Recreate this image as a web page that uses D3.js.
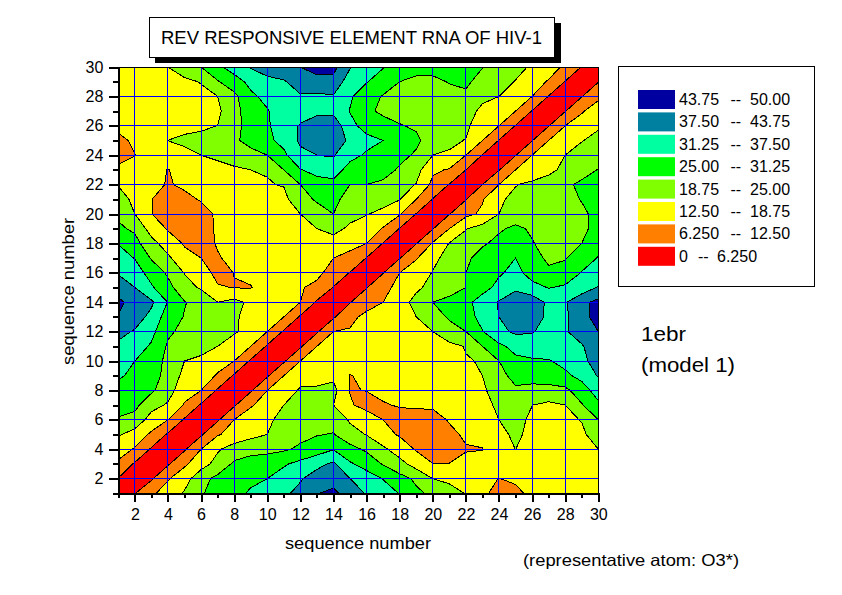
<!DOCTYPE html>
<html><head><meta charset="utf-8">
<script src="https://cdn.jsdelivr.net/npm/d3@7"></script>
<style>html,body{margin:0;padding:0;background:#fff}svg{display:block}text{font-family:"Liberation Sans",Arial,sans-serif;fill:#000}</style>
</head><body><svg id="c" width="842" height="595"></svg>
<script>
// Upper triangle of the symmetric distance matrix: rowN holds d(N, N+1..30)
const row1=[6,11.5,15,19.5,24.5,27,29.5,32,34,36.5,39,43.5,45,41,37,34,31,26,24,21,18.5,14,10,11,14,15,15.5,16,16.5];
const row2=[5.5,12,16,23,26.5,28,30,31.25,34,37,40,41.5,37.5,34,31,27,24,18.75,17.5,15.5,14,12.4,13.5,14,14,15,15.5,16.5];
const row3=[5.5,11.5,16,21,26,27.5,28,30.5,33,36,38.5,32,29,24.5,21,16,12.6,12.6,14.5,15,15.5,16,16,16,16.5,17,17.5];
const row4=[5.5,12.5,18,21.5,23,23.5,24.2,26,28,31,27,24,20,15.5,12,10,10.5,12,12.3,16,18.8,16,15.5,16,17.5,18.75];
const row5=[5.5,12,14.5,17,18.75,21,23.5,24.7,25.3,21,18.5,14,12,10,9,11,13.5,14.5,17,20,17,16,16.5,17.7,21.5];
const row6=[5.5,12.5,15,18,20,22,23,23,18,15,12.5,10,9.5,10,13,15,17,18.75,20,18,17,17.5,19,25];
const row7=[5.5,12,14.5,18.75,21,22,18.75,13,11,12,13,13.5,13.5,14,15.5,17.5,19.5,20.5,18.8,17.5,18.75,24.5,30];
const row8=[5.5,12.5,15.5,19.5,19.5,20.5,12.3,12.6,14,15,16,16.5,17,17.5,18,21,24,23,23,23.5,28.5,34];
const row9=[5.5,12.5,16.5,17,17.5,12.2,14,15.5,16.5,17,17.5,17.5,18,18.75,23,27,27.5,28,30,33,38];
const row10=[5.5,12.5,14,15,15.5,16,16.5,17,17.5,17.7,18,18.5,19,25,30,30.5,30.8,33,36,40];
const row11=[5.5,12.5,14,14.5,15,15.5,15.5,16,16.5,17.5,19,25,30,33,34.5,35,35.5,37,41];
const row12=[5.5,12.5,13,15,15.5,16,17,18.75,22,25,31,36,38.5,38,35,37,40,43.75];
const row13=[5.5,11,14,15,16.5,18.75,21.5,26,29,33,37.5,41,41,36,36.5,41,47];
const row14=[6,10,12.5,17,20,25,27,29.5,34,38,42,41.5,36,37,42,45.5];
const row15=[6,11,14,18,20,22,25,29,33,36,33,31,32,34,38];
const row16=[6,12.5,16,19,21.5,25,28,30.5,33,29,26,28,31.5,34];
const row17=[6,12,17.5,20.5,23.5,28,29,31.25,27,24,24.5,29,31.5];
const row18=[6,13,19,21,24,27,28,25.5,22,22,25,30];
const row19=[6,12.5,18.5,21,24,26.5,24,21,21,23,28];
const row20=[6,11,13.5,18.75,21,21,20,20,23,28];
const row21=[6,12,18,20,20,20.5,22,25.5,27];
const row22=[6.25,12.5,18.5,20,21,24,26,26.5];
const row23=[6,12.5,15,17.5,20,23,25.2];
const row24=[6,12.5,15.5,18.75,21,23];
const row25=[6,12.5,15,18.5,20.5];
const row26=[6,12.5,15,18];
const row27=[6,12,15];
const row28=[6,11.5];
const row29=[6];
const rows=[row1,row2,row3,row4,row5,row6,row7,row8,row9,row10,row11,row12,row13,row14,row15,row16,row17,row18,row19,row20,row21,row22,row23,row24,row25,row26,row27,row28,row29];

const levels=[0,6.25,12.5,18.75,25,31.25,37.5,43.75];
const colors=["#ff0000","#ff8000","#ffff00","#80ff00","#00ff00","#00ffa0","#0080a0","#0000a0"];
const legendLow=["0","6.250","12.50","18.75","25.00","31.25","37.50","43.75"];
const legendHigh=["6.250","12.50","18.75","25.00","31.25","37.50","43.75","50.00"];
const majorTicks=[2,4,6,8,10,12,14,16,18,20,22,24,26,28,30];
const minorTicks=[1,3,5,7,9,11,13,15,17,19,21,23,25,27,29];
const titleText="REV RESPONSIVE ELEMENT RNA OF HIV-1";
const axisName="sequence number";

const n=30, grid=new Array(n*n).fill(0);
rows.forEach((r,i)=>r.forEach((v,k)=>{const j=i+1+k;grid[i*n+j]=v;grid[j*n+i]=v;}));

const L=118.3,R=598.3,T=67,B=493.3;
const x=d3.scaleLinear().domain([1,30]).range([L,R]);
const y=d3.scaleLinear().domain([1,30]).range([B,T]);
const svg=d3.select("#c");
svg.append("defs").append("clipPath").attr("id","plot").append("rect")
  .attr("x",L).attr("y",T).attr("width",R-L).attr("height",B-T);

const contours=d3.contours().size([n,n]).thresholds(levels)(grid);
const path=d3.geoPath(d3.geoTransform({point(px,py){this.stream.point(x(px+.5),y(py+.5));}}));
const plot=svg.append("g").attr("clip-path","url(#plot)");
plot.selectAll("path").data(contours).join("path")
  .attr("d",path).attr("fill",(d,i)=>colors[i]).attr("fill-rule","evenodd")
  .attr("stroke","#000").attr("stroke-width",(d,i)=>i?1:0).attr("shape-rendering","crispEdges");

// grid
const gridG=svg.append("g").attr("stroke","#0000ff").attr("stroke-width",1).attr("shape-rendering","crispEdges");
gridG.selectAll(".v").data(majorTicks.slice(0,-1)).join("line").attr("x1",d=>x(d)).attr("x2",d=>x(d)).attr("y1",T).attr("y2",B);
gridG.selectAll(".h").data(majorTicks.slice(0,-1)).join("line").attr("y1",d=>y(d)).attr("y2",d=>y(d)).attr("x1",L).attr("x2",R);

// frame
svg.append("rect").attr("x",L).attr("y",T).attr("width",R-L).attr("height",B-T).attr("fill","none").attr("stroke","#000").attr("stroke-width",1).attr("shape-rendering","crispEdges");

// axes
function styleAxis(g,w,fs){g.select(".domain").attr("stroke","#000").attr("stroke-width",2).attr("shape-rendering","crispEdges");
  g.selectAll(".tick line").attr("stroke","#000").attr("stroke-width",w).attr("shape-rendering","crispEdges");
  g.selectAll("text").attr("font-size",fs).attr("font-family",'"Liberation Sans",Arial,sans-serif');}
const axB=svg.append("g").attr("transform",`translate(0,${B})`).call(d3.axisBottom(x).tickValues(majorTicks).tickFormat(d3.format("d")).tickSize(9).tickPadding(6).tickSizeOuter(0));
styleAxis(axB,2,16);
const axBm=svg.append("g").attr("transform",`translate(0,${B})`).call(d3.axisBottom(x).tickValues(minorTicks).tickFormat("").tickSize(5).tickSizeOuter(0));
styleAxis(axBm,2,16);
const axL=svg.append("g").attr("transform",`translate(${L},0)`).call(d3.axisLeft(y).tickValues(majorTicks).tickFormat(d3.format("d")).tickSize(9).tickPadding(6).tickSizeOuter(0));
styleAxis(axL,2,16);
const axLm=svg.append("g").attr("transform",`translate(${L},0)`).call(d3.axisLeft(y).tickValues(minorTicks).tickFormat("").tickSize(5).tickSizeOuter(0));
styleAxis(axLm,2,16);

svg.append("text").attr("x",285).attr("y",549).attr("font-size",16.5).attr("textLength",146).attr("lengthAdjust","spacingAndGlyphs").text(axisName);
svg.append("text").attr("transform","translate(74,365) rotate(-90)").attr("font-size",16.5).attr("textLength",147).attr("lengthAdjust","spacingAndGlyphs").text(axisName);

// title
svg.append("rect").attr("x",155).attr("y",23).attr("width",406).attr("height",40).attr("fill","#000").attr("shape-rendering","crispEdges");
svg.append("rect").attr("x",149.5).attr("y",17.5).attr("width",405).attr("height",39.5).attr("fill","#fff").attr("stroke","#000").attr("shape-rendering","crispEdges");
svg.append("text").attr("x",161).attr("y",44).attr("font-size",18.5).attr("textLength",381).attr("lengthAdjust","spacingAndGlyphs").text(titleText);

// legend
svg.append("rect").attr("x",618.5).attr("y",66.5).attr("width",196).attr("height",220).attr("fill","#fff").attr("stroke","#000").attr("shape-rendering","crispEdges");
const order=d3.range(7,-1,-1);
const leg=svg.append("g").selectAll("g").data(order).join("g").attr("transform",(d,i)=>`translate(638,${90+i*22.4})`);
leg.append("rect").attr("width",37).attr("height",19).attr("fill",d=>colors[d]);
leg.append("text").attr("x",41).attr("y",15).attr("font-size",16).text(d=>legendLow[d]);
leg.append("text").attr("x",d=>d?92.5:60).attr("y",15).attr("font-size",16).text("--");
leg.append("text").attr("x",d=>d?112:79).attr("y",15).attr("font-size",16).text(d=>legendHigh[d]);

svg.append("text").attr("x",641).attr("y",341).attr("font-size",21).attr("textLength",45).attr("lengthAdjust","spacingAndGlyphs").text("1ebr");
svg.append("text").attr("x",641).attr("y",372).attr("font-size",21).attr("textLength",94).attr("lengthAdjust","spacingAndGlyphs").text("(model 1)");
svg.append("text").attr("x",523).attr("y",565.5).attr("font-size",16.5).attr("textLength",216).attr("lengthAdjust","spacingAndGlyphs").text("(representative atom: O3*)");
</script></body></html>
